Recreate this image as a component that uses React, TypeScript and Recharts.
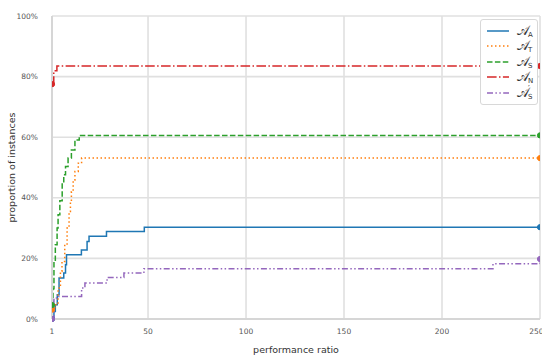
import { CartesianGrid, Line, LineChart, XAxis, YAxis } from "recharts";

// performance ratio (x) and proportion of instances in % (y), step profiles
const ratioA = [1, 2, 2.7, 3.7, 4.6, 7, 7.9, 8.4, 16, 18.9, 19.9, 28.8, 48.1, 250];
const pctA = [0, 2.5, 4.7, 8, 13.5, 15.2, 17.9, 21.2, 22.8, 25.6, 27.3, 28.9, 30.3, 30.3];

const ratioT = [1, 2.4, 4.1, 5.3, 6.1, 7.5, 8.7, 9.7, 10.4, 10.9, 11.8, 12.7, 14.4, 16.1, 250];
const pctT = [3.1, 4.7, 10.2, 15.7, 19, 24.5, 30, 35.5, 38.2, 42, 45.9, 48.7, 51.4, 53.1, 53.1];

const ratioS = [1, 1.5, 2, 2.7, 3.6, 4.1, 5, 6.2, 7, 7.9, 9.2, 10.9, 12.7, 14.9, 250];
const pctS = [4.6, 10, 19, 24.5, 30, 34.4, 39, 44.8, 47.6, 50.3, 53.1, 55.8, 59.1, 60.6, 60.6];

const ratioN = [1, 1.9, 3.5, 250];
const pctN = [77.5, 81.9, 83.5, 83.5];

const ratioS2 = [1, 2, 4.1, 16.1, 17.8, 29.1, 37.7, 47.9, 226, 250];
const pctS2 = [0, 6.9, 7.4, 10.2, 11.9, 13.7, 15.2, 16.6, 18.2, 19.8];

const xTicks = [1, 50, 100, 150, 200, 250];
const yTicks = [0, 20, 40, 60, 80, 100];

const toPoints = (xs: number[], ys: number[]) => xs.map((x, i) => ({ x, y: ys[i] }));

const series = [
  { key: "A", sub: "A", prime: false, color: "#1f77b4", dash: undefined, data: toPoints(ratioA, pctA) },
  { key: "T", sub: "T", prime: false, color: "#ff7f0e", dash: "1.5 2.5", data: toPoints(ratioT, pctT) },
  { key: "S", sub: "S", prime: false, color: "#2ca02c", dash: "5.5 2.4", data: toPoints(ratioS, pctS) },
  { key: "N", sub: "N", prime: false, color: "#d62728", dash: "9.6 2.4 1.5 2.4", data: toPoints(ratioN, pctN) },
  { key: "S2", sub: "S", prime: true, color: "#9467bd", dash: "6 2.4 1.5 2.4 1.5 2.4", data: toPoints(ratioS2, pctS2) },
];

const font = "'DejaVu Sans', Verdana, sans-serif";

const endDot = (color: string, last: number) => (props: any) => {
  const { cx, cy, index } = props;
  if (index !== 0 && index !== last) return <g key={`d-${index}`} />;
  return <circle key={`d-${index}`} cx={cx} cy={cy} r={2.6} fill={color} stroke={color} />;
};

const AlgoLabel = ({ sub, prime }: { sub: string; prime: boolean }) => (
  <svg width={22} height={14} style={{ overflow: "visible" }}>
    <text x={0} y={10.5} fontFamily="'DejaVu Serif', serif" fontSize={12.5} fill="#333">
      𝒜
    </text>
    {prime ? (
      <text x={11} y={6} fontFamily={font} fontSize={8} fill="#333">
        ′
      </text>
    ) : null}
    <text x={11} y={13} fontFamily={font} fontSize={7} fill="#333">
      {sub}
    </text>
  </svg>
);

const LegendBox = () => (
  <div
    style={{
      position: "absolute",
      left: 480,
      top: 19,
      background: "#fff",
      border: "1px solid #d8d8d8",
      borderRadius: 3,
      padding: "3px 2px 3px 6px",
      width: 48,
    }}
  >
    {series.map((s) => (
      <div key={s.key} style={{ display: "flex", alignItems: "center", height: 15.5 }}>
        <svg width={22} height={6} style={{ marginRight: 8, flexShrink: 0 }}>
          <line x1={0} y1={3} x2={22} y2={3} stroke={s.color} strokeWidth={1.5} strokeDasharray={s.dash} />
        </svg>
        <AlgoLabel sub={s.sub} prime={s.prime} />
      </div>
    ))}
  </div>
);

export default function App() {
  return (
    <div style={{ position: "absolute", left: 0, top: 0, width: 542, height: 355, background: "#fff" }}>
      <LineChart width={542} height={355} margin={{ top: 16, right: 2, left: 0, bottom: 0 }}>
        <CartesianGrid stroke="#e0e0e0" strokeWidth={1.6} />
        <XAxis
          type="number"
          dataKey="x"
          domain={[1, 250]}
          ticks={xTicks}
          allowDataOverflow
          height={36}
          tickLine={false}
          axisLine={{ stroke: "#d6d6d6", strokeWidth: 2 }}
          tick={{ fontSize: 7.5, fill: "#555", fontFamily: font }}
          tickMargin={4}
          label={{ value: "performance ratio", position: "insideBottom", offset: 2, fontSize: 9.5, fill: "#333", fontFamily: font }}
        />
        <YAxis
          type="number"
          dataKey="y"
          domain={[0, 100]}
          ticks={yTicks}
          width={52}
          tickLine={false}
          axisLine={{ stroke: "#d6d6d6", strokeWidth: 2 }}
          tick={{ fontSize: 7.5, fill: "#555", fontFamily: font }}
          tickMargin={8}
          tickFormatter={(v) => `${v}%`}
          label={{ value: "proportion of instances", angle: -90, position: "insideLeft", offset: 12, fontSize: 9.5, fill: "#333", fontFamily: font, style: { textAnchor: "middle" } }}
        />
        {series.map((s) => (
          <Line
            key={s.key}
            data={s.data}
            dataKey="y"
            type="stepAfter"
            stroke={s.color}
            strokeWidth={1.5}
            strokeDasharray={s.dash}
            dot={endDot(s.color, s.data.length - 1)}
            activeDot={false}
            isAnimationActive={false}
          />
        ))}
      </LineChart>
      <LegendBox />
    </div>
  );
}
